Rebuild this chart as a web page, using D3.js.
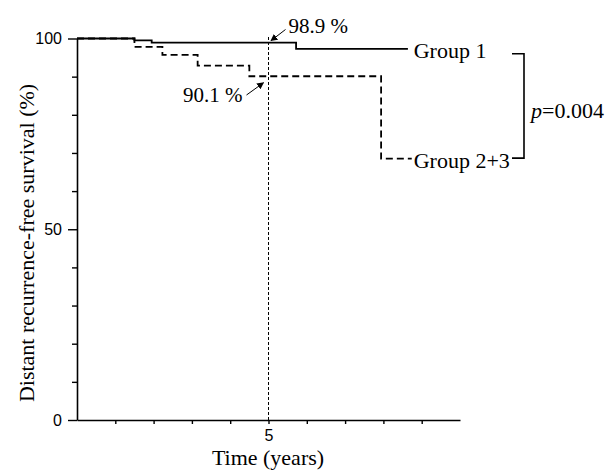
<!DOCTYPE html>
<html lang="en">
<head>
<meta charset="utf-8">
<script src="https://d3js.org/d3.v7.min.js"></script>
<style>
  body { margin: 0; background: #fff; }
  svg text { fill: #000; }
  .serif { font-family: "Liberation Serif", "Times New Roman", serif; }
  .tick text { font-family: "Liberation Sans", Arial, sans-serif; font-size: 16px; }
</style>
</head>
<body>
<svg></svg>
<script>
// Kaplan-Meier steps (time in years, survival in %)
const group1Times = [0, 1.5, 1.95, 5.72, 8.64];
const group1Surv  = [100, 99.5, 98.9, 97.3, 97.3];
const group23Times = [0, 1.5, 2.23, 3.15, 4.5, 7.94, 8.74];
const group23Surv  = [100, 97.8, 95.7, 92.9, 90.1, 68.5, 68.5];
const groupLabels = ["Group 1", "Group 2+3"];
const landmarkTime = 5;
const landmarkValues = [98.9, 90.1];
const landmarkLabels = ["98.9 %", "90.1 %"];
const pLabel = "0.004";
const xTicks = [1, 2, 3, 4, 5, 6, 7, 8, 9];
const yTicks = [0, 10, 20, 30, 40, 50, 60, 70, 80, 90, 100];

let width = 607, height = 470;
let svg = d3.select("svg").attr("width", width).attr("height", height);

let x = d3.scaleLinear().domain([0, 10]).range([77, 460]);
let y = d3.scaleLinear().domain([0, 100]).range([420, 38.5]);

// arrow head
svg.append("defs").append("marker")
    .attr("id", "arrow")
    .attr("viewBox", "0 0 10 10")
    .attr("refX", 9).attr("refY", 5)
    .attr("markerWidth", 7).attr("markerHeight", 7)
    .attr("markerUnits", "userSpaceOnUse")
    .attr("orient", "auto")
    .append("path")
    .attr("d", "M0,0 L10,5 L0,10 z")
    .attr("fill", "#000");

// axes
let xAxis = d3.axisBottom(x).tickValues(xTicks).tickSize(4).tickSizeOuter(0)
    .tickPadding(6)
    .tickFormat(d => d == landmarkTime ? d : "");
let gx = svg.append("g").attr("transform", "translate(0," + y(0) + ")").call(xAxis);
gx.select(".domain").attr("stroke-width", 1.6);
gx.selectAll(".tick line").attr("stroke-width", 1.4);

let yAxis = d3.axisLeft(y).tickValues(yTicks).tickSize(5).tickSizeOuter(0)
    .tickPadding(10)
    .tickFormat(d => d % 50 == 0 ? d : "");
let gy = svg.append("g").attr("transform", "translate(" + x(0) + ",0)").call(yAxis);
gy.select(".domain").attr("stroke-width", 1.6);
gy.selectAll(".tick line").attr("stroke-width", 1.4)
    .attr("x2", d => d % 50 == 0 ? -9 : -5);

// 5 year reference line
svg.append("line")
    .attr("x1", x(landmarkTime)).attr("x2", x(landmarkTime))
    .attr("y1", y(0)).attr("y2", y(100) - 3.5)
    .attr("stroke", "#000").attr("stroke-width", 1)
    .attr("stroke-dasharray", "3,2");

// survival curves
let line = d3.line().curve(d3.curveStepAfter)
    .x(d => x(d[0])).y(d => y(d[1]));

svg.append("path")
    .datum(d3.zip(group1Times, group1Surv))
    .attr("d", line)
    .attr("fill", "none").attr("stroke", "#000").attr("stroke-width", 1.8);

svg.append("path")
    .datum(d3.zip(group23Times, group23Surv))
    .attr("d", line)
    .attr("fill", "none").attr("stroke", "#000").attr("stroke-width", 1.8)
    .attr("stroke-dasharray", "7,4");

// group labels
let ends = [group1Surv[group1Surv.length - 1], group23Surv[group23Surv.length - 1]];
let labelX = x(group23Times[group23Times.length - 1]) + 2;
svg.selectAll("text.group")
    .data(groupLabels)
    .enter().append("text")
    .attr("class", "group serif")
    .attr("x", labelX)
    .attr("y", (d, i) => y(ends[i]) + 9.5)
    .attr("font-size", 22)
    .text(d => d);

// bracket with p value
let bx = 524;
let bTop = y(ends[0]) + 5, bBot = y(ends[1]) - 0.5;
svg.append("path")
    .attr("d", "M" + (bx - 12) + "," + bTop + " H" + bx + " V" + bBot + " H" + (bx - 12))
    .attr("fill", "none").attr("stroke", "#000").attr("stroke-width", 1.6);

let pt = svg.append("text").attr("class", "serif")
    .attr("x", bx + 7).attr("y", (bTop + bBot) / 2 + 12)
    .attr("font-size", 22);
pt.append("tspan").attr("font-style", "italic").text("p");
pt.append("tspan").text("=" + pLabel);

// landmark annotations
svg.append("line")
    .attr("x1", x(landmarkTime) + 17).attr("y1", 29.5)
    .attr("x2", x(landmarkTime) + 2.5).attr("y2", y(landmarkValues[0]) - 2)
    .attr("stroke", "#000").attr("stroke-width", 1)
    .attr("marker-end", "url(#arrow)");
svg.append("text").attr("class", "serif")
    .attr("x", x(landmarkTime) + 20).attr("y", 33)
    .attr("font-size", 21)
    .text(landmarkLabels[0]);

svg.append("line")
    .attr("x1", x(landmarkTime) - 22).attr("y1", 95)
    .attr("x2", x(landmarkTime) - 5).attr("y2", y(landmarkValues[1]) + 6.5)
    .attr("stroke", "#000").attr("stroke-width", 1)
    .attr("marker-end", "url(#arrow)");
svg.append("text").attr("class", "serif")
    .attr("x", x(landmarkTime) - 26).attr("y", 101.5)
    .attr("text-anchor", "end")
    .attr("font-size", 21)
    .text(landmarkLabels[1]);

// axis titles
svg.append("text").attr("class", "serif")
    .attr("transform", "translate(34,243) rotate(-90)")
    .attr("text-anchor", "middle")
    .attr("font-size", 22)
    .text("Distant recurrence-free survival (%)");

svg.append("text").attr("class", "serif")
    .attr("x", 268).attr("y", 464.5)
    .attr("text-anchor", "middle")
    .attr("font-size", 22)
    .text("Time (years)");
</script>
</body>
</html>
